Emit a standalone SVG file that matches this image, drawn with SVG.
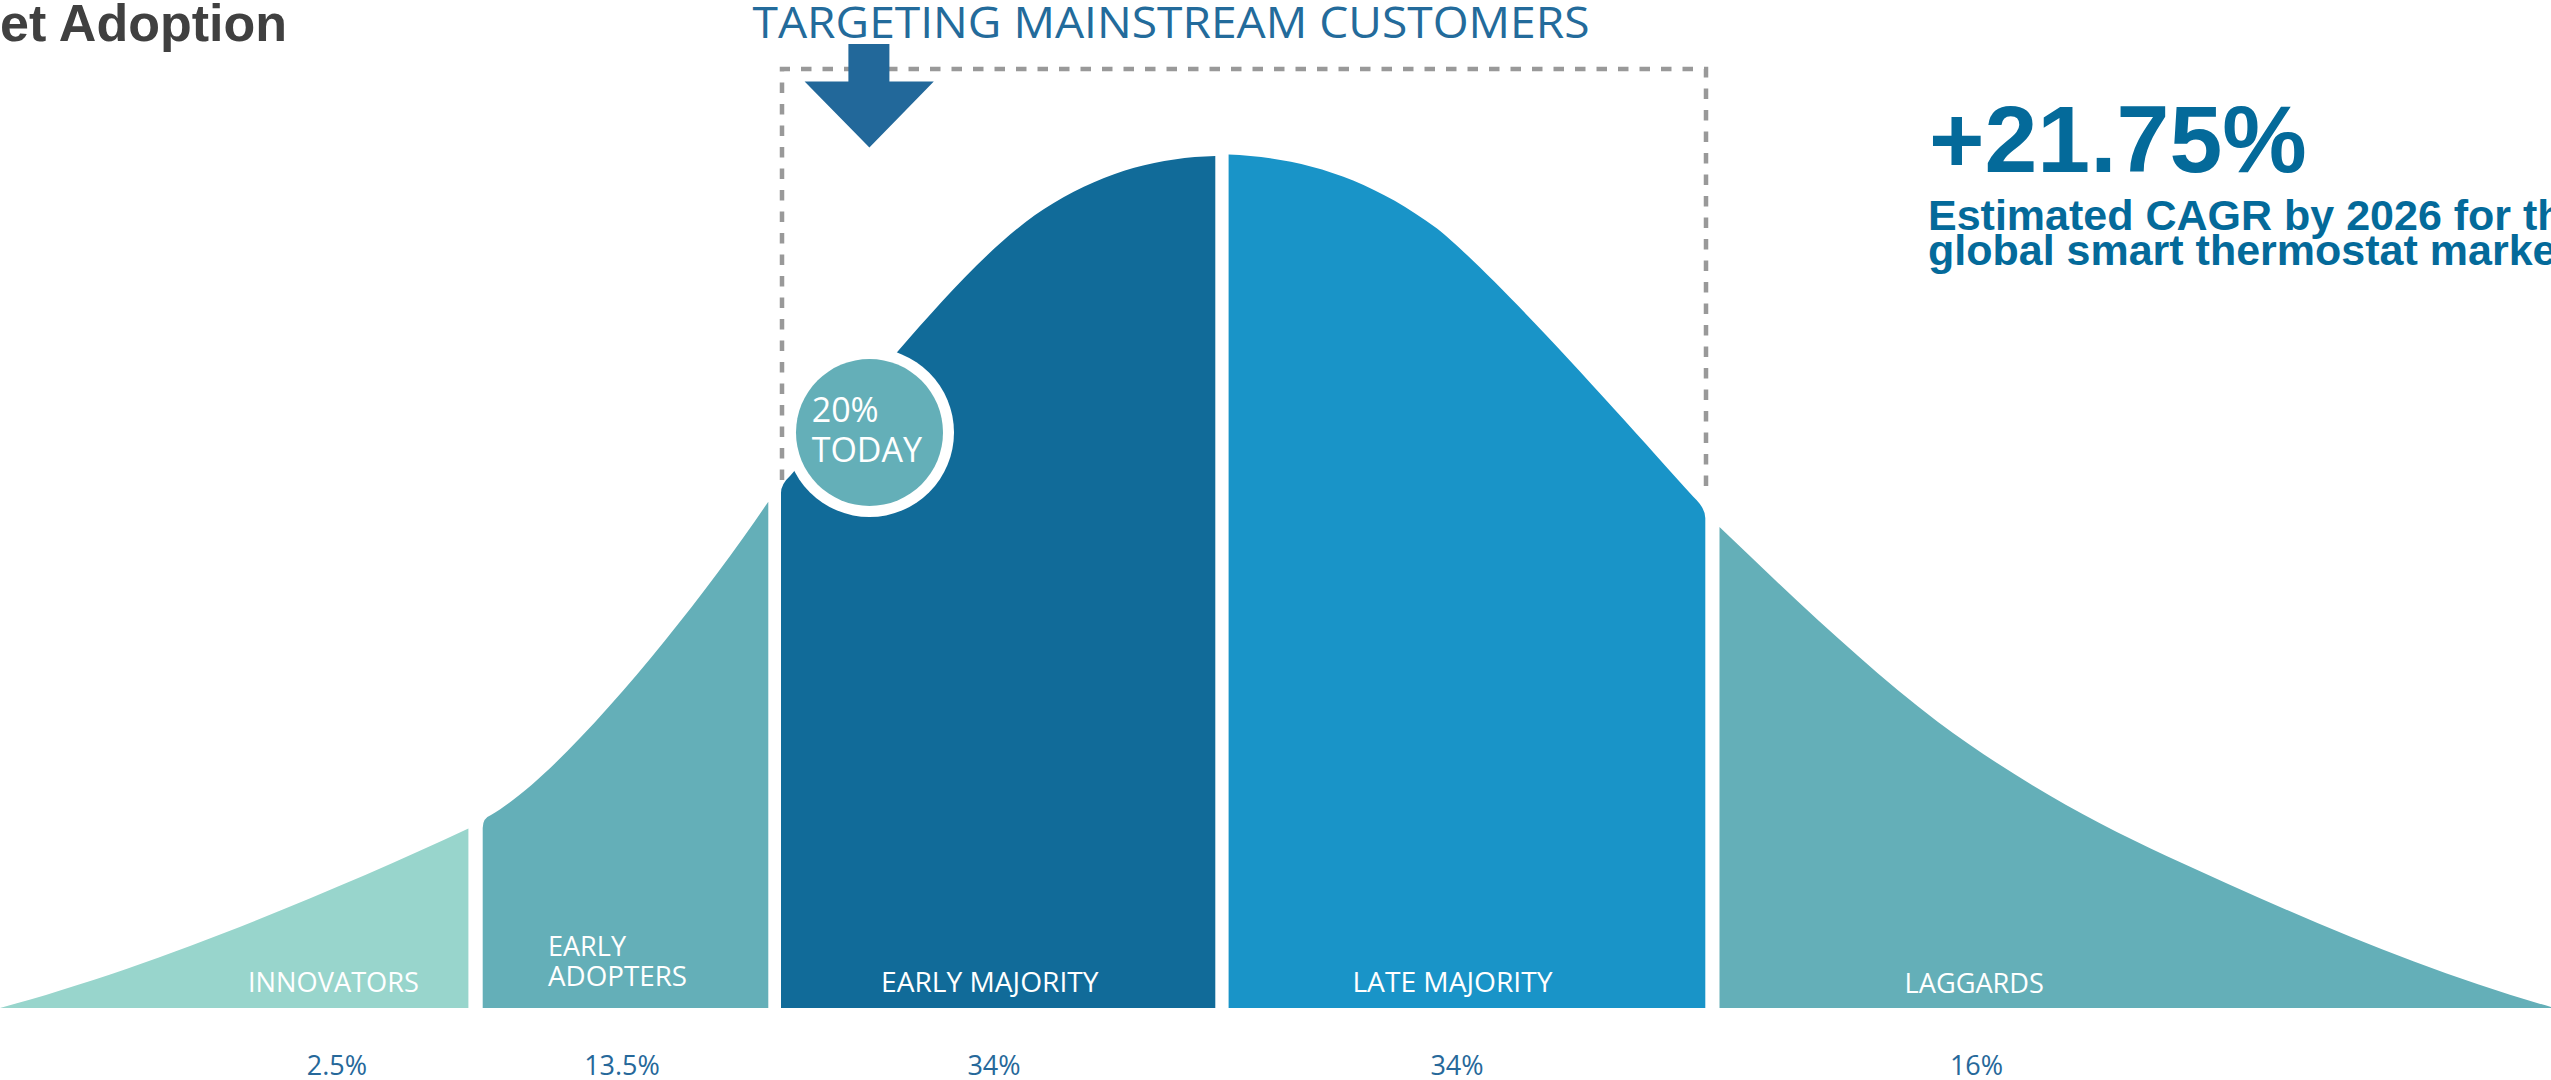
<svg xmlns="http://www.w3.org/2000/svg" width="2551" height="1080" viewBox="0 0 2551 1080">
<style>
.bg{fill:#ffffff}
.innov{fill:#98D5CC}
.teal{fill:#64AFB8}
.em{fill:#116B99}
.lm{fill:#1994C8}
.lbl{font-family:"Open Sans","Liberation Sans",sans-serif;fill:#ffffff;font-size:26.6px}
.pct{font-family:"Open Sans","Liberation Sans",sans-serif;fill:#26689A;font-size:27px;text-anchor:middle}
.head{font-family:"Liberation Sans",Arial,sans-serif;font-weight:bold}
.box{fill:none;stroke:#999999;stroke-width:4.5;stroke-dasharray:10.5 11}
</style>
<rect class="bg" x="0" y="0" width="2551" height="1080"/>

<g id="title">
<text class="head" x="287" y="40.5" font-size="52" fill="#404040" text-anchor="end">et Adoption</text>
</g>

<g id="target-box">
<path class="box" d="M782 480 V69 H1706 V488"/>
</g>

<g id="target-label">
<text x="752.5" y="38" font-family="'Open Sans','Liberation Sans',sans-serif" font-size="44" fill="#236B9B" textLength="837" lengthAdjust="spacingAndGlyphs">TARGETING MAINSTREAM CUSTOMERS</text>
</g>

<g id="innovators">
<path class="innov" d="M0 1008 C150 968 330 893 468.4 828.6 V1008 Z"/>
<text class="lbl" x="248" y="992" textLength="171" lengthAdjust="spacingAndGlyphs">INNOVATORS</text>
<text class="pct" x="337" y="1075">2.5%</text>
</g>

<g id="early-adopters">
<path class="teal" d="M482.7 1008 V828 Q482.7 818 491 815 C565 772 695 610 768.3 501.7 V1008 Z"/>
<text class="lbl" x="548" y="956" textLength="78" lengthAdjust="spacingAndGlyphs">EARLY</text>
<text class="lbl" x="548" y="986" textLength="139" lengthAdjust="spacingAndGlyphs">ADOPTERS</text>
<text class="pct" x="622" y="1075">13.5%</text>
</g>

<g id="early-majority">
<path class="em" d="M781 1008 V493 Q781 484 790 476 L898.3 350.7 C946 296 1001 234 1053.3 203.3 C1108.3 170.3 1160 157.5 1215.3 156 V1008 Z"/>
<text class="lbl" x="881" y="992" textLength="217.5" lengthAdjust="spacingAndGlyphs">EARLY MAJORITY</text>
<text class="pct" x="994" y="1075">34%</text>
</g>

<g id="late-majority">
<path class="lm" d="M1228.6 1008 V154.5 C1299 157.5 1366.7 176.3 1436.7 228.3 C1496.7 276.3 1623.3 418.7 1693.3 496.7 Q1705.3 508 1705.3 518 V1008 Z"/>
<text class="lbl" x="1352.4" y="992" textLength="200" lengthAdjust="spacingAndGlyphs">LATE MAJORITY</text>
<text class="pct" x="1457" y="1075">34%</text>
</g>

<g id="laggards">
<path class="teal" d="M1719.5 1008 V527 C1791.5 596 1865.3 666.5 1937.3 721.5 C2014.3 778.5 2090.1 820.8 2167.1 856.2 C2295.1 915.2 2423 971 2551 1007 V1008 Z"/>
<text class="lbl" x="1904.5" y="993" textLength="139.5" lengthAdjust="spacingAndGlyphs">LAGGARDS</text>
<text class="pct" x="1976.5" y="1075">16%</text>
</g>

<g id="today-marker">
<circle cx="869.5" cy="432.5" r="84.5" fill="#ffffff"/>
<circle cx="869.5" cy="432.5" r="73.5" fill="#64AFB8"/>
<text x="811.7" y="421.7" font-family="'Open Sans','Liberation Sans',sans-serif" font-size="34" fill="#ffffff">20%</text>
<text x="811.7" y="461.7" font-family="'Open Sans','Liberation Sans',sans-serif" font-size="34" fill="#ffffff">TODAY</text>
</g>

<g id="connectors">
<polygon points="848.4,44 889.4,44 889.4,81.5 933.8,81.5 869.4,147.5 804.6,81.5 848.4,81.5" fill="#22689A"/>
</g>

<g id="cagr">
<text class="head" x="1929" y="171.5" font-size="95" fill="#046A9A">+21.75%</text>
<text class="head" x="1928" y="230" font-size="43" fill="#046A9A">Estimated CAGR by 2026 for th</text>
<text class="head" x="1928" y="265" font-size="43" fill="#046A9A">global smart thermostat marke</text>
</g>
</svg>
